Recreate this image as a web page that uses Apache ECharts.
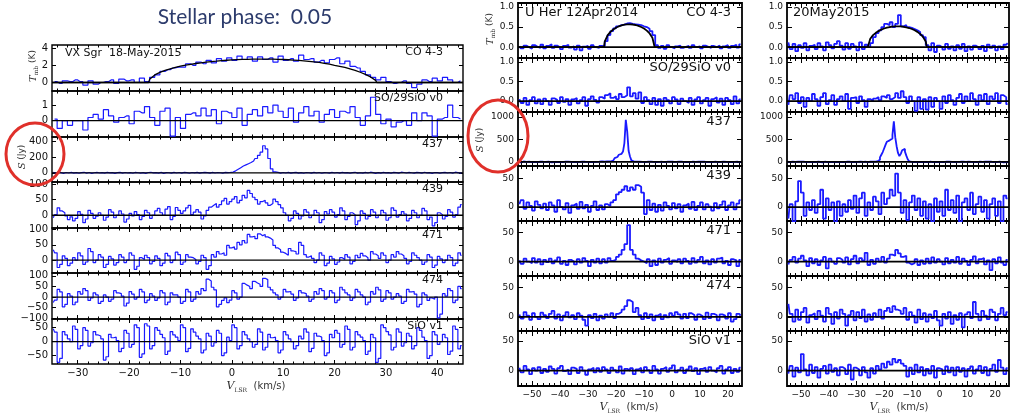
<!DOCTYPE html>
<html><head><meta charset="utf-8">
<script src="https://cdn.jsdelivr.net/npm/echarts@6/dist/echarts.min.js"></script>
<style>html,body{margin:0;padding:0;background:#fff}#c{width:1011px;height:415px}</style>
</head><body><div id="c"></div><script>
// ---------------- DATA ----------------
// Left panel: VX Sgr 18-May-2015 (CO, SO: 1 km/s from -34.5; others 0.5 km/s from -34.75)
const leftCO = [
0.1,-0.1,0.2,0.1,0.3,0.1,-0.3,0.2,-0.2,0.0,
0.1,0.3,-0.1,0.4,0.2,0.3,0.0,0.5,0.1,0.6,
0.9,1.3,1.5,1.7,1.8,1.8,2.2,2.0,2.4,2.2,
2.6,2.3,2.8,2.5,2.9,2.6,3.1,2.7,3.0,2.5,
3.0,2.7,2.9,2.4,3.1,2.6,2.8,2.5,3.2,2.7,
2.8,2.4,2.6,2.3,2.7,2.9,2.2,2.5,1.9,1.7,
1.3,0.9,0.6,0.3,0.6,0.1,-0.1,0.0,0.2,-0.1,
-0.6,-0.2,0.3,0.1,0.5,0.2,0.6,0.3,0.0,0.2];
const leftCOFitV = [-35,-16.2,-16,-15,-14,-13,-12,-11,-10,-9,-8,-7,-6,-5,-4,-3,-2,-1,0,1,2,3,4,5,6,7,8,9,10,11,12,13,14,15,16,17,18,19,20,21,22,23,24,25,26,27,28,28.2,45];
const leftCOFitT = [0,0,0.37,0.89,1.19,1.42,1.61,1.77,1.91,2.03,2.13,2.23,2.31,2.39,2.46,2.51,2.57,2.61,2.65,2.68,2.71,2.72,2.74,2.75,2.75,2.75,2.74,2.72,2.7,2.67,2.63,2.59,2.54,2.48,2.42,2.35,2.25,2.15,2.02,1.9,1.77,1.6,1.42,1.2,0.95,0.65,0.25,0,0];
const leftSO = [
0.1,-0.5,0.0,-0.3,0.0,0.0,-0.6,0.2,0.4,0.1,
0.7,0.3,-0.1,0.2,0.3,-0.2,0.6,0.5,0.9,0.2,
-0.3,0.6,0.8,-1.0,0.2,-0.5,0.4,0.5,0.3,0.8,
0.3,0.7,-0.2,0.6,0.5,0.2,0.8,-0.3,0.4,0.7,
0.3,0.9,0.5,1.0,0.6,0.2,0.8,-0.1,0.5,0.9,
0.3,0.6,-0.1,0.4,0.7,0.2,0.6,0.5,0.9,0.2,
-0.3,0.3,1.5,0.4,-0.2,0.1,-0.4,-0.1,0.0,-0.3,
0.5,0.0,0.5,0.3,-1.0,0.1,0.2,1.0,0.2,0.1];
const left437 = [
5,-3,8,2,-6,4,-2,6,-4,3,
-5,2,7,-3,4,-6,1,5,-2,3,
-4,6,-1,3,-7,2,5,-3,4,-2,
3,-5,6,1,-4,2,-6,4,7,-1,
2,-3,5,-6,3,1,-4,6,-2,4,
-3,5,2,-5,4,-1,6,-4,3,7,
2,-3,5,-2,4,1,-3,6,2,5,
10,25,45,65,85,100,115,130,150,180,
220,260,340,300,180,50,12,5,-3,4,
-2,5,-4,3,6,-3,2,-5,4,1,
-3,6,-2,4,-5,3,1,-4,5,-2,
4,-3,6,-1,3,-5,2,7,-3,1,
-4,5,-2,8,3,-6,2,-3,5,-1,
3,-5,6,2,-3,8,4,-2,6,1,
-3,5,2,-4,7,-1,3,-6,4,2,
-5,3,6,-2,4,-3,8,2,-4,5];
const left439 = [
-8,2,24,14,8,-2,-14,-5,-18,-10,12,3,-24,-12,16,6,-10,-3,8,0,
-16,-6,18,10,-8,0,14,4,-22,-12,6,-2,12,2,-14,-4,16,8,-10,0,
14,22,8,0,20,28,-14,-4,25,16,6,14,24,32,2,10,18,10,-12,-2,
16,26,32,38,26,34,46,54,36,44,52,60,40,48,64,56,80,70,58,50,
36,44,48,40,32,38,52,44,34,24,8,0,-18,-10,14,6,-12,-2,18,10,
-8,0,16,8,-24,-14,12,4,18,10,-6,2,24,14,-14,-4,8,2,-30,-18,
14,6,-12,-4,18,10,-8,0,16,8,-16,-8,24,16,-6,2,12,4,-18,-10,
16,8,-8,0,22,14,-14,-6,-34,-24,8,2,-12,-4,18,10,-6,2,26,34];
const left471 = [
34,24,-24,-14,14,6,-18,-10,8,0,24,14,-14,-6,38,28,-8,0,18,10,
-24,-14,12,4,-16,-8,18,10,-8,0,24,16,-30,-20,8,2,16,8,-12,-4,
14,6,-18,-10,22,14,-8,0,26,18,-14,-6,18,10,8,2,-12,-4,16,8,
-30,-18,18,10,28,20,24,16,48,40,44,36,58,50,64,56,84,76,78,70,
86,80,84,76,72,66,48,40,34,26,22,16,38,30,28,20,58,48,18,10,
14,6,-8,0,24,16,-18,-10,12,4,-14,-6,8,2,18,10,-12,-4,16,8,
22,14,8,0,28,20,14,6,24,16,-8,0,18,10,28,20,14,6,-12,-4,
24,16,8,0,-14,-6,18,10,-24,-16,12,4,-8,0,16,8,-18,-10,24,16];
const left474 = [
-26,-14,36,24,-46,-34,16,4,-36,-24,26,14,40,30,-16,-4,20,10,-30,-20,
10,0,-20,-10,30,20,16,4,-42,-28,26,14,-10,0,36,24,-26,-14,16,4,
-16,-4,30,20,-36,-24,20,10,10,0,-30,-20,36,24,-20,-10,26,14,40,30,
84,76,46,34,-46,-34,-16,-4,-26,-14,30,20,-10,0,64,56,50,40,74,66,
60,50,88,82,46,34,20,10,-10,0,36,24,26,14,-16,-4,30,20,16,4,
-20,-10,26,14,40,30,-10,0,30,20,-26,-14,46,34,20,10,-16,-4,36,24,
10,0,-36,-24,26,14,46,34,-20,-10,30,20,-10,0,16,4,-30,-20,36,24,
26,14,-46,-34,20,10,-16,-4,-10,0,-98,-80,16,4,40,30,-26,-14,50,40];
const leftSiO = [
46,34,-74,-60,36,24,10,0,56,44,-26,-14,50,40,-16,-4,36,24,20,10,
-66,-54,26,14,16,4,-36,-24,40,30,-20,-10,60,50,-56,-44,64,56,-26,-14,
50,40,26,14,-46,-34,36,24,16,4,60,50,-36,-24,46,34,20,10,-40,-30,
30,20,-16,-4,40,30,-50,-40,16,4,60,50,-26,-14,36,24,10,0,-20,-10,
46,34,-30,-20,26,14,16,4,-40,-30,36,24,10,0,-26,-14,20,10,46,34,
-36,-24,30,20,16,4,-50,-40,26,14,40,30,-20,-10,56,44,-30,-20,36,24,
16,4,-46,-34,26,14,-74,-60,60,50,36,24,-30,-20,46,34,-16,-4,30,20,
-26,-14,50,40,16,4,-60,-50,36,24,-10,0,26,14,-46,-34,56,44,-26,-14];

// Middle panel: U Her 12Apr2014, channels 1 km/s from -54.5 (437: 0.5 km/s from -54.75)
const midCO = [
0.02,-0.03,0.04,0.0,-0.04,0.05,0.01,-0.02,0.06,-0.03,
0.03,0.07,-0.02,0.04,0.0,-0.05,0.03,0.06,-0.01,0.02,
-0.06,0.04,-0.08,0.01,0.03,-0.04,0.05,0.0,-0.02,0.03,
0.02,0.15,0.3,0.4,0.47,0.52,0.55,0.56,0.59,0.6,
0.58,0.57,0.56,0.55,0.52,0.5,0.46,0.4,0.3,0.05,
-0.02,0.03,-0.04,0.05,0.0,-0.03,0.02,0.04,-0.02,0.01,
0.03,-0.02,0.05,0.0,0.02,-0.03,0.04,0.01,-0.02,0.03,
0.0,0.04,-0.03,0.02,0.05,-0.02,0.03,0.06,-0.01,0.07];
const midCOFitV = [-55,-24.3,-24,-23,-22,-21,-20,-19,-18,-17,-16,-15,-14,-13,-12,-11,-10,-9,-8,-7,-6.2,25];
const midCOFitT = [0,0,0.145,0.295,0.38,0.44,0.485,0.52,0.543,0.559,0.568,0.568,0.564,0.552,0.532,0.503,0.465,0.412,0.341,0.234,0,0];
const midSO = [
0.05,-0.05,0.08,-0.1,0.02,0.1,-0.06,0.04,-0.08,0.06,
0.0,-0.1,0.07,0.03,-0.05,0.1,-0.02,0.05,-0.1,0.04,
0.08,-0.06,0.02,0.1,-0.12,0.05,0.12,0.03,-0.04,0.1,
0.06,0.15,0.2,0.08,0.12,0.05,0.18,0.1,0.15,0.35,
0.12,0.2,0.06,0.22,-0.05,0.1,0.02,-0.08,0.08,-0.1,
0.05,-0.12,0.08,0.02,-0.06,0.1,0.04,-0.08,0.06,0.0,
-0.05,0.08,-0.1,0.04,0.1,-0.06,0.02,0.08,-0.12,0.05,
0.1,-0.04,0.06,-0.1,0.08,0.02,-0.08,0.12,-0.06,0.04];
const mid437 = [
5,-8,3,10,-5,2,-10,6,0,-4,
8,-3,5,-6,2,9,-2,4,-7,3,
-5,6,1,-8,4,-2,7,-4,3,0,
6,-5,2,8,-3,5,-8,1,4,-2,
3,-6,5,0,-4,7,-2,4,-5,2,
8,-3,1,-6,5,2,-4,6,10,15,
5,8,6,10,8,12,15,30,55,85,
110,140,160,180,195,230,420,936,680,250,
120,35,8,-5,6,-3,4,-6,2,5,
-4,3,7,-2,5,-6,1,4,-3,6,
2,-5,4,8,-3,0,5,-4,6,-2,
4,-6,3,-1,7,-3,5,2,-5,3,
-2,6,-4,1,5,-7,3,-2,6,0,
4,-3,7,2,-5,3,-1,6,-4,2,
5,-2,-6,4,1,-5,8,-3,2,6,
-4,3,-2,6,0,-5,4,2,-3,5];
const mid439 = [
5,12,-3,8,2,-6,10,4,-2,6,
-5,8,3,-8,12,0,-4,7,-10,3,
6,-3,9,-2,4,-8,2,10,-5,3,
-4,5,2,8,12,22,26,30,36,28,
34,30,38,35,25,-12,12,-5,6,-8,
4,-6,8,2,-4,7,-2,5,-8,3,
6,-3,9,-5,2,8,-4,5,1,-6,
7,-2,4,10,-5,3,8,-4,6,12];
const mid471 = [
2,-4,5,0,-3,6,-2,4,-5,3,
-1,5,-3,2,7,-4,1,-6,3,0,
-5,4,-2,6,1,-8,3,-2,5,-3,
4,-2,6,1,3,8,12,20,30,63,
20,12,5,2,0,-3,4,-8,2,-6,
5,-2,3,6,-4,2,-1,4,-3,5,
1,-4,6,-2,3,8,-3,2,-5,4,
-2,5,7,-3,1,-6,4,2,-8,3];
const mid474 = [
4,-3,8,2,-5,6,0,-4,7,3,
-2,5,10,-3,4,-6,2,8,-1,3,
-4,6,2,-5,-15,3,-2,5,-6,2,
-3,4,0,6,-2,5,8,12,18,28,
25,8,15,3,-4,6,-2,4,-6,2,
5,-4,3,-1,6,2,8,4,-3,5,
-2,6,3,-5,4,1,-4,7,-2,5,
3,-6,4,2,-3,6,-8,-4,5,2];
const midSiO = [
5,-3,8,2,-6,4,0,6,-4,3,
-2,7,3,-5,4,8,-1,2,-6,5,
3,-4,6,0,-7,2,5,-3,4,-2,
6,2,-4,5,1,-3,7,-5,3,0,
4,-6,2,5,-3,6,1,-4,8,2,
-5,3,6,-2,4,9,-3,1,5,-4,
2,7,-1,4,-6,3,5,-2,6,0,
-3,4,8,-5,2,6,-4,3,-2,5];

// Right panel: 20May2015, same channels as middle
const rightCO = [
0.12,-0.05,0.08,-0.1,0.05,-0.02,0.1,-0.08,0.03,0.06,
-0.05,0.1,0.02,-0.08,0.12,0.05,-0.03,0.08,0.15,0.04,
-0.06,0.1,-0.04,0.08,0.02,-0.08,0.12,-0.05,0.06,0.0,
0.1,0.25,0.35,0.42,0.5,0.58,0.55,0.62,0.5,0.58,
0.8,0.52,0.55,0.5,0.48,0.45,0.42,0.38,0.3,0.25,
0.05,-0.08,0.1,-0.12,0.04,0.0,-0.06,0.08,-0.04,0.02,
-0.08,0.05,-0.04,0.08,-0.1,0.02,-0.06,0.04,0.0,-0.05,
0.03,-0.1,0.06,-0.02,0.04,-0.08,0.02,-0.05,0.06,0.1];
const rightCOFitV = [-55,-25.9,-25,-24,-23,-22,-21,-20,-19,-18,-17,-16,-15,-14,-13,-12,-11,-10,-9,-8,-7,-6,-5,-4.6,25];
const rightCOFitT = [0,0,0.21,0.30,0.357,0.40,0.438,0.465,0.487,0.502,0.513,0.519,0.52,0.516,0.508,0.495,0.477,0.452,0.421,0.381,0.329,0.257,0.142,0,0];
const rightSO = [
-0.1,0.15,0.05,0.2,-0.05,0.1,-0.15,0.08,0.0,0.18,
0.05,-0.12,0.1,0.2,-0.08,0.02,0.15,-0.1,0.05,0.12,
0.0,0.18,-0.2,0.08,0.1,-0.05,0.12,0.02,-0.15,0.05,
0.0,0.06,0.1,0.02,0.12,0.08,0.15,0.05,0.1,0.2,
0.08,0.25,0.1,-0.05,0.12,0.0,-0.25,0.1,-0.2,0.05,
-0.22,0.1,-0.15,0.08,0.0,-0.2,0.12,-0.05,0.15,0.02,
-0.1,0.08,0.18,-0.05,0.12,0.0,0.2,0.05,-0.1,0.15,
0.02,0.18,-0.08,0.12,0.05,0.2,-0.05,0.15,0.1,-0.08];
const right437 = [
5,-6,3,8,-4,2,-8,4,0,6,
-3,7,2,-5,4,-2,6,-6,3,1,
4,-4,6,-1,3,-7,2,5,-3,4,
-2,6,-5,3,1,-4,5,-3,7,0,
3,-5,4,-2,6,1,-6,3,-3,5,
1,-4,7,-2,3,-5,4,2,-3,6,
-2,4,-3,6,5,20,50,100,160,220,
300,380,450,480,500,520,600,900,550,350,
200,130,180,260,290,230,140,60,15,5,
-4,6,-2,5,-5,3,1,-3,6,-1,
4,-6,2,5,-3,7,-2,4,-5,3,
-1,5,-4,2,6,-3,4,-6,1,5,
-3,6,2,-5,4,-1,7,-4,3,-2,
5,-3,1,6,-5,3,-2,4,8,-4,
2,-5,6,-1,4,-3,5,2,-6,3,
6,-2,-4,5,1,-7,3,-1,4,2];
const right439 = [
-20,5,-25,10,45,25,-15,8,-5,12,
-10,5,30,-20,15,-5,8,-25,10,-15,
5,-8,12,-3,20,-10,15,25,-15,8,
-5,18,10,-12,25,5,15,30,20,58,
25,-10,12,-22,8,20,-5,15,-15,10,
-20,5,-25,15,-8,10,-15,30,-5,12,
-10,20,-25,8,15,-5,25,-12,5,18,
-8,12,-20,5,15,-15,10,-25,20,15];
const right471 = [
-5,3,8,-2,5,10,2,-8,6,-3,
4,-6,2,8,-12,5,0,-4,6,3,
-2,7,-5,4,10,-3,6,2,15,-6,
3,-4,5,0,8,-2,5,12,10,20,
14,8,10,-2,-5,-3,4,-6,2,-4,
5,-3,7,-2,4,0,-5,6,-3,3,
-2,8,-4,5,1,-6,3,9,-3,4,
6,-5,2,-15,4,-3,7,-2,-6,3];
const right474 = [
22,5,-8,12,-5,8,15,-10,3,6,
-4,10,2,-8,15,5,-12,8,-3,12,
5,-15,3,10,-6,8,-2,12,-8,4,
-5,6,0,12,-3,10,15,8,18,12,
10,5,15,-5,8,2,-10,12,-4,6,
-8,4,-2,10,-6,-15,5,-3,8,-12,
3,-5,6,-18,4,8,-2,25,5,-6,
10,2,-4,12,8,-6,5,15,3,8];
const rightSiO = [
-5,8,-10,5,-3,28,2,-8,10,-4,
6,-12,3,8,-5,10,-2,4,-8,6,
3,-6,10,-15,5,2,-8,6,-3,-12,
4,-5,8,2,12,5,15,10,20,14,
18,12,8,-10,5,-6,10,-3,6,-8,
3,-5,8,-12,4,2,-6,7,-3,5,
-8,6,-2,4,-10,3,7,-5,2,8,
-4,6,-8,3,10,-2,18,5,-6,4];

// Tick labels / line labels
const lineNames = ['CO 4-3','SO/29SiO v0','437','439','471','474','SiO v1'];
const leftYTicks = [[0,2,4],[0,1],[0,200,400],[0,50,100],[0,50,100],[-100,-50,0,50,100],[-50,0,50]];
const leftYRange = [[-1,4.4],[-1.05,1.9],[-115,450],[-41,107],[-42,105],[-103,113],[-80,81]];
const rhsYTicks = [[0,0.5,1],[0,0.5,1],[0,500,1000],[0,50],[0,50],[0,50],[0,50]];
const rhsYRange = [[-0.27,1.1],[-0.28,1.1],[-90,1110],[-24,71],[-25,70],[-24,69],[-26,67]];
const leftXTicks = [-30,-20,-10,0,10,20,30,40];
const rhsXTicks = [-50,-40,-30,-20,-10,0,10,20];
const titleText = 'Stellar phase:  0.05';

// ---------------- LAYOUT / BUILD ----------------
const SANS = "'DejaVu Sans', sans-serif";
const minus = v => String(v).replace('-', '\u2212');
const panels = [
  {left:52, width:411, tops:[45,91,137,182,228,273,319], bottom:364, xmin:-35, xmax:45, xt:leftXTicks,
   yt:leftYTicks, yr:leftYRange, fs:10, labFs:11, labRight:20, labOff:7.5, lw:1.2, bw:1.4, zw:1.3, majLen:4, minLen:2.5,
   series:[
     {vals:leftCO, v0:-34.5, dv:1, fitV:leftCOFitV, fitT:leftCOFitT},
     {vals:leftSO, v0:-34.5, dv:1},{vals:left437, v0:-34.75, dv:0.5},{vals:left439, v0:-34.75, dv:0.5},
     {vals:left471, v0:-34.75, dv:0.5},{vals:left474, v0:-34.75, dv:0.5},{vals:leftSiO, v0:-34.75, dv:0.5}],
   names:true, fmt:[minus,minus,minus,minus,minus,minus,minus]},
  {left:518, width:224, tops:[3,58,112,166,221,276,331], bottom:386, xmin:-55, xmax:25, xt:rhsXTicks,
   yt:rhsYTicks, yr:rhsYRange, fs:9, labFs:13, labRight:11, labOff:10, lw:1.8, bw:1.8, zw:1.8, majLen:5, minLen:3,
   series:[
     {vals:midCO, v0:-54.5, dv:1, fitV:midCOFitV, fitT:midCOFitT},
     {vals:midSO, v0:-54.5, dv:1},{vals:mid437, v0:-54.75, dv:0.5},{vals:mid439, v0:-54.5, dv:1},
     {vals:mid471, v0:-54.5, dv:1},{vals:mid474, v0:-54.5, dv:1},{vals:midSiO, v0:-54.5, dv:1}],
   names:true, fmt:[v=>v.toFixed(1),v=>v.toFixed(1),minus,minus,minus,minus,minus]},
  {left:787, width:222, tops:[3,58,112,166,221,276,331], bottom:386, xmin:-55, xmax:25, xt:rhsXTicks,
   yt:rhsYTicks, yr:rhsYRange, fs:9, labFs:13, labRight:11, labOff:10, lw:1.8, bw:1.8, zw:1.8, majLen:5, minLen:3,
   series:[
     {vals:rightCO, v0:-54.5, dv:1, fitV:rightCOFitV, fitT:rightCOFitT},
     {vals:rightSO, v0:-54.5, dv:1},{vals:right437, v0:-54.75, dv:0.5},{vals:right439, v0:-54.5, dv:1},
     {vals:right471, v0:-54.5, dv:1},{vals:right474, v0:-54.5, dv:1},{vals:rightSiO, v0:-54.5, dv:1}],
   names:false, fmt:[v=>v.toFixed(1),v=>v.toFixed(1),minus,minus,minus,minus,minus]}
];

const grids=[], xAxes=[], yAxes=[], series=[], graphics=[];
panels.forEach(p => {
  const minor = [];
  for (let v = Math.ceil(p.xmin/2)*2; v <= p.xmax; v += 2) if (v % 10 !== 0 && v > p.xmin && v < p.xmax) minor.push(v);
  p.series.forEach((s, k) => {
    const top = p.tops[k];
    const h = (k < 6 ? p.tops[k+1] : p.bottom) - top;
    const gi = grids.length;
    grids.push({left:p.left, top:top, width:p.width, height:h, show:true, borderColor:'#000', borderWidth:p.bw, backgroundColor:'rgba(0,0,0,0)'});
    const bx = {type:'value', gridIndex:gi, min:p.xmin, max:p.xmax, axisLine:{show:false, onZero:false}, splitLine:{show:false}};
    const tk = (vals, len) => ({show:true, inside:true, length:len, customValues:vals, lineStyle:{color:'#000', width:1}});
    const xi = xAxes.length;
    xAxes.push(Object.assign({}, bx, {position:'bottom', axisTick:tk(p.xt, p.majLen),
      axisLabel:{show:k===6, customValues:p.xt, formatter:minus, fontSize:p.fs, color:'#111', margin:4, fontFamily:SANS}}));
    xAxes.push(Object.assign({}, bx, {position:'bottom', axisTick:tk(minor, p.minLen), axisLabel:{show:false}}));
    xAxes.push(Object.assign({}, bx, {position:'top', axisTick:tk(p.xt, p.majLen), axisLabel:{show:false}}));
    xAxes.push(Object.assign({}, bx, {position:'top', axisTick:tk(minor, p.minLen), axisLabel:{show:false}}));
    const by = {type:'value', gridIndex:gi, min:p.yr[k][0], max:p.yr[k][1], axisLine:{show:false, onZero:false}, splitLine:{show:false}};
    const yi = yAxes.length;
    yAxes.push(Object.assign({}, by, {position:'left', axisTick:tk(p.yt[k], p.majLen),
      axisLabel:{show:true, customValues:p.yt[k], formatter:p.fmt[k], fontSize:p.fs, color:'#111', margin:4, fontFamily:SANS}}));
    yAxes.push(Object.assign({}, by, {position:'right', axisTick:tk(p.yt[k], p.majLen), axisLabel:{show:false}}));
    series.push({type:'line', xAxisIndex:xi, yAxisIndex:yi, step:'middle', symbol:'none', silent:true, clip:true, z:2,
      data: s.vals.map((y, i) => [s.v0 + i*s.dv, y]), lineStyle:{color:'#1a1aff', width:p.lw}});
    series.push({type:'line', xAxisIndex:xi, yAxisIndex:yi, symbol:'none', silent:true, clip:true, z:3,
      data: [[p.xmin,0],[p.xmax,0]], lineStyle:{color:'#000', width:p.zw}});
    if (s.fitV) series.push({type:'line', xAxisIndex:xi, yAxisIndex:yi, symbol:'none', silent:true, clip:true, z:4,
      data: s.fitV.map((v, i) => [v, s.fitT[i]]), lineStyle:{color:'#000', width:p.zw}});
    if (p.names) graphics.push({type:'text', x:p.left + p.width - p.labRight, y:top + p.labOff, z:10,
      style:{text:lineNames[k], fontSize:p.labFs, fontFamily:SANS, fill:'#111', textAlign:'right', textVerticalAlign:'middle'}});
  });
});

// panel captions
graphics.push({type:'text', x:65, y:53.5, style:{text:'VX Sgr  18-May-2015', fontSize:11, fontFamily:SANS, fill:'#111', textAlign:'left', textVerticalAlign:'middle'}});
graphics.push({type:'text', x:525, y:12.5, style:{text:'U Her 12Apr2014', fontSize:13, fontFamily:SANS, fill:'#111', textAlign:'left', textVerticalAlign:'middle'}});
graphics.push({type:'text', x:793, y:13, style:{text:'20May2015', fontSize:13, fontFamily:SANS, fill:'#111', textAlign:'left', textVerticalAlign:'middle'}});
// title
graphics.push({type:'text', x:245, y:17, style:{text:titleText, fontSize:21, fontFamily:"Lato, 'DejaVu Sans', sans-serif", fill:'#2c3b6c', textAlign:'center', textVerticalAlign:'middle'}});

// axis titles
function vlsr(x, y) {
  graphics.push({type:'text', x:x, y:y, style:{text:'{v|V}{s|LSR}{n|  (km/s)}', textAlign:'center', textVerticalAlign:'middle',
    rich:{v:{fontFamily:"'DejaVu Serif', serif", fontStyle:'italic', fontSize:11, fill:'#333', lineHeight:14, verticalAlign:'middle'},
          s:{fontFamily:"'DejaVu Serif', serif", fontSize:6, fill:'#333', lineHeight:14, verticalAlign:'bottom', padding:[0,0,0,0]},
          n:{fontFamily:SANS, fontSize:10, fill:'#333', lineHeight:14, verticalAlign:'middle'}}}});
}
vlsr(256, 386.5); vlsr(629, 407.5); vlsr(899, 407.5);
function ylab(x, y, kind) {
  const txt = kind === 'T' ? '{v|T}{s|mb}{n| (K)}' : '{v|S}{n| (Jy)}';
  graphics.push({type:'text', x:x, y:y, rotation:Math.PI/2, style:{text:txt, textAlign:'center', textVerticalAlign:'middle',
    rich:{v:{fontFamily:"'DejaVu Serif', serif", fontStyle:'italic', fontSize:10, fill:'#333', lineHeight:13, verticalAlign:'middle'},
          s:{fontFamily:"'DejaVu Serif', serif", fontSize:6, fill:'#333', lineHeight:13, verticalAlign:'bottom'},
          n:{fontFamily:SANS, fontSize:9, fill:'#333', lineHeight:13, verticalAlign:'middle'}}}});
}
ylab(33, 66, 'T'); ylab(22, 157, 'S'); ylab(490, 29, 'T'); ylab(480, 140, 'S');
// red highlight ellipses
graphics.push({type:'ellipse', z:20, shape:{cx:35, cy:154, rx:29, ry:31}, style:{fill:'none', stroke:'#e0302a', lineWidth:3}});
graphics.push({type:'ellipse', z:20, shape:{cx:498, cy:136, rx:30, ry:36}, style:{fill:'none', stroke:'#e0302a', lineWidth:3}});

const chart = echarts.init(document.getElementById('c'), null, {renderer:'canvas'});
chart.setOption({animation:false, backgroundColor:'#fff', grid:grids, xAxis:xAxes, yAxis:yAxes, series:series, graphic:graphics});
</script></body></html>
